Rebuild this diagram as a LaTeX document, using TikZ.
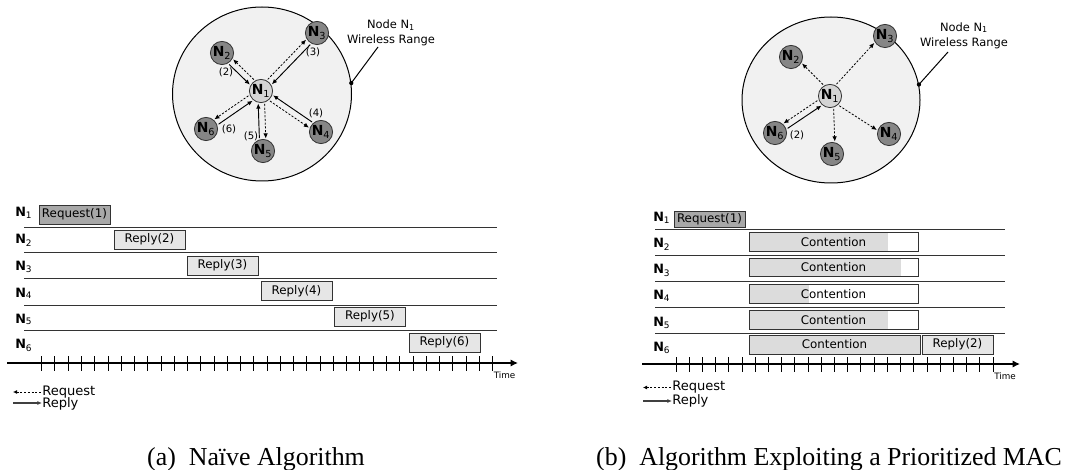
\documentclass[tikz,border=0pt]{standalone}
\usepackage{fontspec}
\setsansfont{DejaVu Sans}
\newfontfamily\capfont{Liberation Serif}
\usetikzlibrary{arrows.meta,calc,shapes.geometric}

\definecolor{rangefill}{HTML}{F1F1F1}
\definecolor{outerfill}{HTML}{868686}
\definecolor{centrefill}{HTML}{D4D4D4}
\definecolor{reqfill}{HTML}{A8A8A8}
\definecolor{repfill}{HTML}{E6E6E6}
\definecolor{contfill}{HTML}{DCDCDC}
\definecolor{edge}{HTML}{333333}

\newcommand\Nl[1]{\textbf{N}\textsubscript{#1}}

\tikzset{
  rangezone/.style={ellipse, draw=black, line width=0.75pt, fill=rangefill, inner sep=0pt},
  peer/.style={circle, draw=edge, line width=0.6pt, fill=outerfill, minimum size=17.4pt,
    inner sep=0pt, font=\sffamily\fontsize{10.4}{11}\selectfont},
  hub/.style={peer, fill=centrefill},
  req/.style={dash pattern=on 1.6pt off 1.2pt, line width=0.6pt,
    -{Latex[length=3.8pt,width=3.4pt]}, shorten <=9.8pt, shorten >=9.3pt},
  rep/.style={line width=0.7pt, -{Latex[length=3.8pt,width=3.4pt]},
    shorten <=9.8pt, shorten >=9.3pt},
  lbl/.style={font=\sffamily\fontsize{7.6}{8}\selectfont, inner sep=0pt},
  rangelabel/.style={font=\sffamily\fontsize{8.6}{11.2}\selectfont, align=center, inner sep=0pt},
  pin/.style={line width=0.75pt},
  rowlab/.style={font=\sffamily\fontsize{9.6}{10}\selectfont, anchor=base west, inner sep=0pt},
  rowline/.style={draw=black!80, line width=0.75pt},
  slot/.style={draw=edge, line width=0.7pt, minimum width=53.25pt, minimum height=14.25pt,
    inner sep=0pt, font=\sffamily\fontsize{8.9}{9}\selectfont},
  reqslot/.style={slot, fill=reqfill},
  repslot/.style={slot, fill=repfill},
  axis/.style={line width=1.1pt, -{Latex[length=5.5pt,width=5.5pt]}},
  tick/.style={line width=0.7pt},
  timelab/.style={font=\sffamily\fontsize{6.6}{7}\selectfont, anchor=west, inner sep=0pt},
  legtext/.style={font=\sffamily\fontsize{9.8}{10}\selectfont, anchor=west, inner sep=0pt},
  legreq/.style={dash pattern=on 1.6pt off 1.2pt, line width=0.6pt, {Latex[length=3pt,width=3pt]}-},
  legrep/.style={line width=0.9pt, black!75, -{Latex[length=3.5pt,width=3pt]}},
  caption/.style={font=\capfont\fontsize{19.4}{21}\selectfont, anchor=base, inner sep=0pt}
}

\begin{document}
\begin{tikzpicture}[x=0.75pt, y=-0.75pt]
\useasboundingbox (0,0) rectangle (1067,470);

% ---------------- (a) naive algorithm: topology ----------------
\node[rangezone, minimum width=134.25pt, minimum height=130.5pt] (rangeA) at (262,94) {};
\node[hub]  (a1) at (261,91)  {\Nl{1}};
\node[peer] (a2) at (222,53)  {\Nl{2}};
\node[peer] (a3) at (317,33)  {\Nl{3}};
\node[peer] (a4) at (321,132) {\Nl{4}};
\node[peer] (a5) at (263,151) {\Nl{5}};
\node[peer] (a6) at (206,129) {\Nl{6}};

% request (dashed, out of N1) and reply (solid, into N1) on parallel tracks
\foreach \n/\p/\q in {a2/-90/90, a3/90/-90, a4/-90/90, a5/90/-90, a6/-90/90} {
  \draw[req] ($(a1)!2.4pt!\p:(\n)$) -- ($(\n)!2.4pt!\q:(a1)$);
  \draw[rep] ($(\n)!2.4pt!\p:(a1)$) -- ($(a1)!2.4pt!\q:(\n)$);
}
\node[lbl] (la2) at (226,72)  {(2)};
\node[lbl] (la3) at (313,52)  {(3)};
\node[lbl] (la4) at (316,113) {(4)};
\node[lbl] (la5) at (251,136) {(5)};
\node[lbl] (la6) at (229,129) {(6)};

\node[rangelabel] (rla) at (391,33) {Node N\textsubscript{1}\\Wireless Range};
\coordinate (pina) at (378,47);
\fill (rangeA.7) circle (1.6pt);
\draw[pin] (rangeA.7) -- (pina);

% ---------------- (a) timeline ----------------
\node[rowlab] (ta1) at (15,217) {\Nl{1}};
\node[rowlab] (ta2) at (15,244) {\Nl{2}};
\node[rowlab] (ta3) at (15,270.5) {\Nl{3}};
\node[rowlab] (ta4) at (15,297) {\Nl{4}};
\node[rowlab] (ta5) at (15,323) {\Nl{5}};
\node[rowlab] (ta6) at (15,349) {\Nl{6}};

\foreach \y in {227.3,252.8,279,305,330.3}
  \draw[rowline] (24,\y) -- (497,\y);

\node[reqslot] (sa1) at (74.5,214.5)  {Request(1)};
\node[repslot] (sa2) at (149.5,239.5) {Reply(2)};
\node[repslot] (sa3) at (222.5,265.5) {Reply(3)};
\node[repslot] (sa4) at (296.5,291)   {Reply(4)};
\node[repslot] (sa5) at (370,316.5)   {Reply(5)};
\node[repslot] (sa6) at (444.5,342.5) {Reply(6)};

\coordinate (axa0) at (7,363);
\coordinate (axa1) at (518,363);
\draw[axis] (axa0) -- (axa1);
\foreach \k in {0,...,34}
  \draw[tick] ({41.7+13.26*\k},356) -- ++(0,15);
\node[timelab] (tma) at (493.5,375) {Time};

\node[legtext] (lgqa) at (42,392) {Request};
\node[legtext] (lgpa) at (42,403.5) {Reply};
\coordinate (lgqa0) at (13,392);
\coordinate (lgpa0) at (13,403);
\draw[legreq] (lgqa0) -- (lgqa.west);
\draw[legrep] (lgpa0) -- (lgpa.west |- lgpa0);

\node[caption] (capa) at (256,465) {(a)\ \ Naïve Algorithm};

% ---------------- (b) prioritized MAC: topology ----------------
\node[rangezone, minimum width=133.5pt, minimum height=124.5pt] (rangeB) at (831,100) {};
\node[hub]  (b1) at (830,96)  {\Nl{1}};
\node[peer] (b2) at (791,57)  {\Nl{2}};
\node[peer] (b3) at (885,36)  {\Nl{3}};
\node[peer] (b4) at (889,134) {\Nl{4}};
\node[peer] (b5) at (832,154) {\Nl{5}};
\node[peer] (b6) at (775,133) {\Nl{6}};

\foreach \n/\p/\q in {b2/-90/90, b3/90/-90, b4/-90/90, b5/90/-90, b6/-90/90}
  \draw[req] ($(b1)!2.4pt!\p:(\n)$) -- ($(\n)!2.4pt!\q:(b1)$);
\draw[rep] ($(b6)!2.4pt!-90:(b1)$) -- ($(b1)!2.4pt!90:(b6)$);
\node[lbl] (lb6) at (797,135) {(2)};

\node[rangelabel] (rlb) at (964,35.5) {Node N\textsubscript{1}\\Wireless Range};
\coordinate (pinb) at (948,52);
\fill (rangeB.10) circle (1.6pt);
\draw[pin] (rangeB.10) -- (pinb);

% ---------------- (b) timeline ----------------
\node[rowlab] (tb1) at (653,222) {\Nl{1}};
\node[rowlab] (tb2) at (653,248) {\Nl{2}};
\node[rowlab] (tb3) at (653,274) {\Nl{3}};
\node[rowlab] (tb4) at (653,300) {\Nl{4}};
\node[rowlab] (tb5) at (653,326) {\Nl{5}};
\node[rowlab] (tb6) at (653,351) {\Nl{6}};

\foreach \y in {229.7,255.3,281.7,307.7,333}
  \draw[rowline] (655,\y) -- (1005,\y);

\node[reqslot, minimum height=12pt] (sb1) at (709.5,219.5) {Request(1)};

% contention windows: shaded part is the backoff still running
\foreach \n/\y/\w in {2/242/139, 3/267.5/152, 4/294/60, 5/320/139} {
  \fill[contfill] (749,\y-9.3) rectangle (749+\w,\y+9.3);
  \node[slot, minimum width=126.75pt, minimum height=13.9pt] (cb\n) at (833.5,\y) {Contention};
}
\node[slot, fill=contfill, minimum width=128.25pt] (cb6) at (834.5,344.5) {Contention};
\node[repslot] (sb6) at (957.5,344.5) {Reply(2)};

\coordinate (axb0) at (642,364);
\coordinate (axb1) at (1020,364);
\draw[axis] (axb0) -- (axb1);
\foreach \k in {0,...,24}
  \draw[tick] ({676+13.21*\k},357) -- ++(0,15);
\node[timelab] (tmb) at (994,376) {Time};

\node[legtext] (lgqb) at (672,387.5) {Request};
\node[legtext] (lgpb) at (672,401) {Reply};
\coordinate (lgqb0) at (643,387.5);
\coordinate (lgpb0) at (643,401);
\draw[legreq] (lgqb0) -- (lgqb.west);
\draw[legrep] (lgpb0) -- (lgpb.west |- lgpb0);

\node[caption] (capb) at (829,465) {(b)\ \ Algorithm Exploiting a Prioritized MAC};
\end{tikzpicture}
\end{document}
